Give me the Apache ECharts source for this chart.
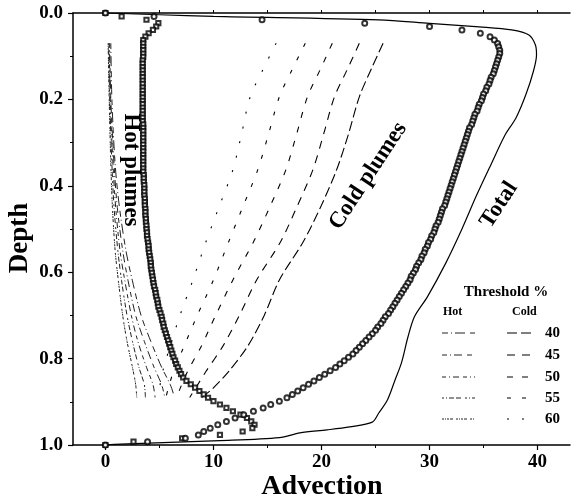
<!DOCTYPE html>
<html><head><meta charset="utf-8">
<script src="https://cdn.jsdelivr.net/npm/echarts@6/dist/echarts.min.js"></script>
<style>html,body{margin:0;padding:0;background:#fff}#c{width:571px;height:504px}</style>
</head><body><div id="c"></div>
<script>
// ---------- data ----------
const xTicks = [0, 10, 20, 30, 40];
const xMinorTicks = [5, 15, 25, 35];
const xTopTicks = [0, 5, 10, 15, 20, 25, 30, 35, 40];
const thresholds = ['40', '45', '50', '55', '60'];

// markers are on a regular depth grid of 129 levels (0 .. 1)
const markerLevels = 129;

// circles: cold plume advection (all cold plumes)
const coldMarkers = [
  0, 4.5, 14.5, 24, 30, 33, 34.7, 35.6, 36.0, 36.3, 36.4, 36.5, 36.5, 36.4, 36.3,
  36.2, 36.1, 36.0, 35.9, 35.7, 35.6, 35.5, 35.3, 35.2, 35.0,
  34.9, 34.8, 34.6, 34.5, 34.4, 34.2, 34.1, 34.0, 33.9, 33.7,
  33.6, 33.5, 33.4, 33.3, 33.2, 33.1, 33.0, 32.9, 32.8, 32.7,
  32.6, 32.5, 32.4, 32.3, 32.2, 32.1, 32.0, 31.9, 31.8, 31.7,
  31.6, 31.5, 31.4, 31.2, 31.1, 31.0, 30.9, 30.8, 30.6, 30.5,
  30.4, 30.2, 30.1, 29.9, 29.8, 29.6, 29.5, 29.3, 29.2, 29.0,
  28.8, 28.7, 28.5, 28.3, 28.2, 28.0, 27.8, 27.6, 27.4, 27.2,
  27.0, 26.8, 26.6, 26.4, 26.2, 25.9, 25.7, 25.5, 25.2, 25.0,
  24.7, 24.4, 24.1, 23.8, 23.5, 23.2, 22.9, 22.5, 22.1, 21.7,
  21.3, 20.8, 20.3, 19.8, 19.3, 18.8, 18.3, 17.8, 17.3, 16.8,
  16.1, 15.3, 14.6, 13.7, 12.8, 12.0, 11.2, 10.4, 9.7, 9.1,
  8.6, 7.4, 3.9, 0
];

// squares: hot plume advection (all hot plumes)
const hotMarkers = [
  0, 1.5, 3.8, 4.9, 4.7, 4.4, 4.0, 3.7, 3.5,
  3.5, 3.5, 3.5, 3.5, 3.5, 3.45, 3.45, 3.45, 3.45, 3.45,
  3.45, 3.45, 3.45, 3.45, 3.45, 3.45, 3.45, 3.45, 3.45, 3.45,
  3.45, 3.45, 3.45, 3.45, 3.5, 3.5, 3.5, 3.5, 3.5, 3.5,
  3.5, 3.5, 3.5, 3.5, 3.5, 3.5, 3.5,
  3.5, 3.5, 3.55, 3.55, 3.55, 3.6, 3.6, 3.6, 3.6, 3.65,
  3.65, 3.65, 3.7, 3.7, 3.7, 3.75, 3.75, 3.8, 3.8, 3.85,
  3.85, 3.9, 3.95, 4.0, 4.0, 4.05, 4.1, 4.15, 4.2, 4.2, 4.25, 4.3, 4.35, 4.4,
  4.45, 4.5, 4.6, 4.65, 4.7, 4.8, 4.85, 4.9, 5.0, 5.1,
  5.2, 5.25, 5.35, 5.4, 5.5, 5.6, 5.7, 5.8, 5.9, 6.0,
  6.1, 6.2, 6.3, 6.45, 6.55, 6.7, 6.85, 7.0, 7.2, 7.5,
  7.9, 8.3, 8.7, 9.1, 9.5, 10.0, 10.6, 11.2, 11.8, 12.5,
  13.1, 13.5, 13.8, 13.6, 12.7, 10.6, 7.1, 2.6, 0
];

// total advection (solid line)
const totalDepth = [0, 0.004, 0.008, 0.016, 0.024, 0.032, 0.039, 0.051, 0.074, 0.097, 0.136, 0.19, 0.243, 0.282, 0.35, 0.425, 0.5, 0.579, 0.657, 0.703, 0.75, 0.81, 0.85, 0.896, 0.926, 0.947, 0.958, 0.965, 0.972, 0.983, 0.99, 0.998, 1];
const totalValue = [0, 5, 10, 25.3, 30, 34.6, 37.6, 39.2, 39.8, 39.9, 39.6, 38.9, 38.0, 37.0, 35.7, 34.3, 33.0, 31.5, 29.8, 28.6, 28.0, 27.4, 26.8, 26.1, 25.3, 24.7, 22.6, 20.5, 18.0, 16.1, 10.6, 1.4, 0];

// cold plumes at thresholds 40..60 %
const coldDepth = [0.07, 0.13, 0.194, 0.28, 0.363, 0.45, 0.53, 0.618, 0.7, 0.77, 0.83, 0.87, 0.89];
const cold40 = [25.7, 24.6, 23.5, 22.5, 21.4, 19.9, 18.3, 16.1, 14.7, 13.2, 11.4, 9.9, 8.9];
const cold45 = [23.5, 22.4, 21.2, 20.2, 19.2, 17.7, 16.2, 14.0, 12.4, 10.9, 9.3, 8.3, 7.8];
const cold50 = [21.0, 19.9, 18.7, 17.7, 16.7, 15.2, 13.7, 11.8, 10.2, 8.9, 7.6, 6.9, 6.6];
const cold55 = [18.5, 17.3, 16.1, 15.1, 14.1, 12.7, 11.4, 10.0, 8.5, 7.3, 6.3, 5.8, 5.6];
const cold60 = [15.8, 14.6, 13.4, 12.6, 11.8, 10.5, 9.3, 8.1, 6.9, 6.0, 5.3, 5.0, 4.9];

// hot plumes at thresholds 40..60 %
const hotDepth = [0.07, 0.2, 0.35, 0.45, 0.55, 0.62, 0.7, 0.76, 0.82, 0.86, 0.89];
const hot40 = [0.5, 0.6, 0.9, 1.3, 1.9, 2.5, 3.3, 4.2, 5.2, 6.0, 6.4];
const hot45 = [0.4, 0.5, 0.8, 1.1, 1.6, 2.1, 2.8, 3.6, 4.5, 5.2, 5.5];
const hot50 = [0.35, 0.45, 0.7, 0.95, 1.35, 1.8, 2.4, 3.0, 3.8, 4.4, 4.6];
const hot55 = [0.3, 0.4, 0.6, 0.8, 1.15, 1.5, 2.0, 2.5, 3.1, 3.6, 3.7];
const hot60 = [0.25, 0.35, 0.5, 0.65, 0.9, 1.2, 1.6, 2.0, 2.5, 2.8, 2.9];

// ---------- styles ----------
const SERIF = '"Liberation Serif", "DejaVu Serif", serif';
const coldDash = [[10, 4], [8, 7], [6, 9], [4, 11], [2, 13]];
const hotDash = [[6, 3, 1, 3, 10, 5], [5, 3, 1, 3, 8, 5], [4, 3, 1, 3, 6, 4], [2, 2, 1, 2, 5, 2, 5, 4], [2, 1, 1, 1, 2, 1, 3, 3]];

const levelDepth = Array.from({length: markerLevels}, (_, i) => i / (markerLevels - 1));
const pairs = (xs, ds) => xs.map((v, i) => [v, ds[i]]);

const coldLines = [cold40, cold45, cold50, cold55, cold60];
const hotLines = [hot40, hot45, hot50, hot55, hot60];

const series = [];
hotLines.forEach((arr, k) => series.push({
  type: 'line', name: 'Hot ' + thresholds[k], data: pairs(arr, hotDepth), showSymbol: false, symbol: 'none',
  smooth: 0.3, lineStyle: {color: '#222', width: 1, type: hotDash[k]}, z: 2
}));
coldLines.forEach((arr, k) => series.push({
  type: 'line', name: 'Cold ' + thresholds[k], data: pairs(arr, coldDepth), showSymbol: false, symbol: 'none',
  smooth: 0.3, lineStyle: {color: '#000', width: 1.1, type: coldDash[k]}, z: 2
}));
series.push({
  type: 'line', name: 'Total', data: pairs(totalValue, totalDepth), showSymbol: false, symbol: 'none',
  smooth: 0.3, lineStyle: {color: '#000', width: 1.2}, z: 3
});
series.push({
  type: 'scatter', name: 'Hot plumes', data: pairs(hotMarkers, levelDepth), symbol: 'emptyRect', symbolSize: 4.2,
  itemStyle: {color: '#000', borderColor: '#000', borderWidth: 0.8}, z: 4
});
series.push({
  type: 'scatter', name: 'Cold plumes', data: pairs(coldMarkers, levelDepth), symbol: 'emptyCircle', symbolSize: 5,
  itemStyle: {color: '#000', borderColor: '#000', borderWidth: 0.8}, z: 4
});

// ---------- legend & labels as graphics ----------
const graphic = [];
const txt = (text, x, y, size, rot, align) => ({
  type: 'text', x: x, y: y, rotation: rot || 0, silent: true,
  style: {text: text, font: 'bold ' + size + 'px ' + SERIF, fill: '#000', align: align || 'center', verticalAlign: 'middle'}
});
graphic.push(txt('Hot plumes', 131, 170, 23, -Math.PI / 2));
graphic.push(txt('Cold plumes', 368, 176, 23, 0.99));
graphic.push(txt('Total', 499, 205, 23, 0.99));
graphic.push(txt('Depth', 20, 238, 27, Math.PI / 2));
graphic.push(txt('Advection', 322, 487, 28, 0));
graphic.push(txt('Threshold %', 506, 292, 15, 0));
graphic.push(txt('Hot', 443, 312, 12, 0, 'left'));
graphic.push(txt('Cold', 512, 312, 12, 0, 'left'));
const rowY = [333, 355, 377, 398, 419];
thresholds.forEach((t, k) => {
  graphic.push(txt(t, 545, rowY[k], 15, 0, 'left'));
  graphic.push({type: 'line', silent: true, shape: {x1: 442, y1: rowY[k], x2: 475, y2: rowY[k]},
    style: {stroke: '#222', lineWidth: 1, lineDash: hotDash[k]}});
  graphic.push({type: 'line', silent: true, shape: {x1: 507, y1: rowY[k], x2: 535, y2: rowY[k]},
    style: {stroke: '#000', lineWidth: 1.1, lineDash: coldDash[k]}});
});

const tickFont = {color: '#000', fontFamily: SERIF, fontWeight: 'bold', fontSize: 19};
const baseX = {type: 'value', min: -3, max: 43, splitLine: {show: false}};

const option = {
  animation: false,
  backgroundColor: '#fff',
  grid: {left: 73, right: 1, top: 13, bottom: 59, containLabel: false},
  xAxis: [
    Object.assign({}, baseX, {
      position: 'bottom',
      axisLine: {show: true, onZero: false, lineStyle: {color: '#000', width: 1.5}},
      axisTick: {show: true, inside: false, length: 5, customValues: xTicks, lineStyle: {color: '#000', width: 1.2}},
      axisLabel: Object.assign({show: true, customValues: xTicks, margin: 8}, tickFont)
    }),
    Object.assign({}, baseX, {
      position: 'bottom',
      axisLine: {show: false, onZero: false},
      axisTick: {show: true, inside: false, length: 3, customValues: xMinorTicks, lineStyle: {color: '#000', width: 1}},
      axisLabel: {show: false}
    }),
    Object.assign({}, baseX, {
      position: 'top',
      axisLine: {show: true, onZero: false, lineStyle: {color: '#000', width: 1.5}},
      axisTick: {show: true, inside: false, length: 3, customValues: xTopTicks, lineStyle: {color: '#000', width: 1}},
      axisLabel: {show: false}
    })
  ],
  yAxis: {
    type: 'value', inverse: true, min: 0, max: 1, interval: 0.2,
    axisLine: {show: true, onZero: false, lineStyle: {color: '#000', width: 1.5}},
    axisTick: {show: true, inside: false, length: 5, lineStyle: {color: '#000', width: 1.2}},
    minorTick: {show: true, splitNumber: 2, length: 3, lineStyle: {color: '#000', width: 1}},
    axisLabel: Object.assign({margin: 10, formatter: v => v.toFixed(1)}, tickFont),
    splitLine: {show: false}, minorSplitLine: {show: false}
  },
  series: series,
  graphic: graphic
};

const chart = echarts.init(document.getElementById('c'), null, {renderer: 'canvas'});
chart.setOption(option);
</script>
</body></html>
